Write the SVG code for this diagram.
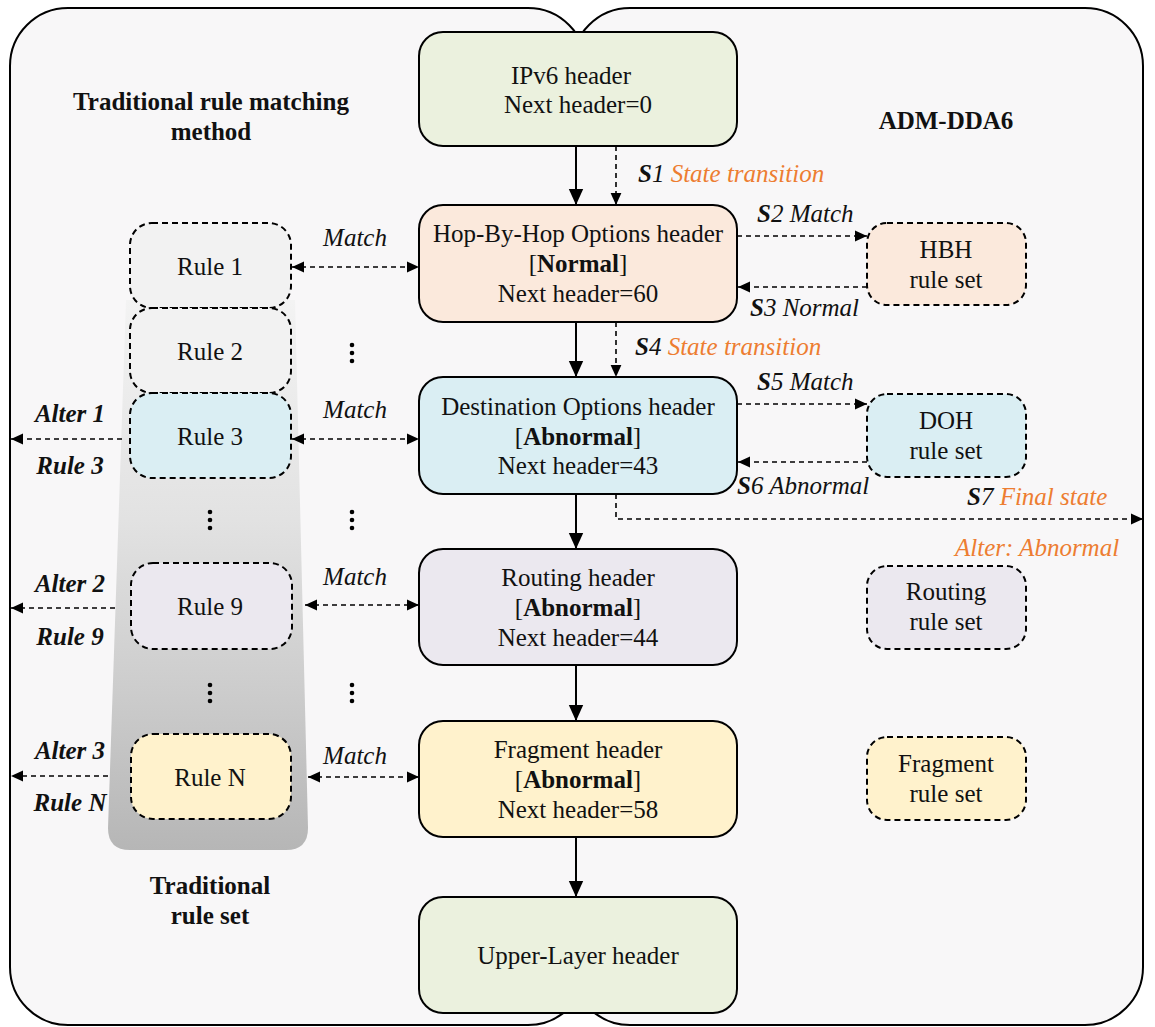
<svg xmlns="http://www.w3.org/2000/svg" width="1155" height="1027" viewBox="0 0 1155 1027">
<defs>
<linearGradient id="gr" x1="0" y1="0" x2="0" y2="1">
<stop offset="0" stop-color="#f3f3f3"/>
<stop offset="0.4" stop-color="#e2e2e2"/>
<stop offset="0.7" stop-color="#cdcdcd"/>
<stop offset="1" stop-color="#b6b6b6"/>
</linearGradient>
<marker id="ah" viewBox="0 0 10 10" refX="10" refY="5" markerWidth="16" markerHeight="16" markerUnits="userSpaceOnUse" orient="auto-start-reverse">
<path d="M0,0.5 L10,5 L0,9.5 z" fill="#000"/>
</marker>
<marker id="ahs" viewBox="0 0 10 10" refX="10" refY="5" markerWidth="12" markerHeight="12" markerUnits="userSpaceOnUse" orient="auto-start-reverse">
<path d="M0,0.5 L10,5 L0,9.5 z" fill="#000"/>
</marker>
</defs>
<style>
.t{font-family:"Liberation Serif","Times New Roman",serif;font-size:25px;fill:#111;text-anchor:middle}
.b{font-weight:bold}
.i{font-style:italic}
.o{fill:#ed7d31}
.s{text-anchor:start}
.node{stroke:#000;stroke-width:2}
.rs{stroke:#000;stroke-width:2;stroke-dasharray:6 4}
.sol{stroke:#000;stroke-width:2;fill:none;marker-end:url(#ah)}
.dsh{stroke:#000;stroke-width:1.6;fill:none;stroke-dasharray:5 4;marker-end:url(#ahs)}
.dbl{stroke:#000;stroke-width:1.6;fill:none;stroke-dasharray:5 4;marker-end:url(#ahs);marker-start:url(#ahs)}
.panel{fill:#f8f7f8;stroke:#000;stroke-width:2}
</style>
<rect width="1155" height="1027" fill="#fff"/>
<g id="panels">
<rect class="panel" x="10" y="8" width="576" height="1017" rx="58"/>
<rect class="panel" x="572" y="8" width="571" height="1017" rx="58"/>
<rect x="560" y="62" width="40" height="911" fill="#f8f7f8"/>
</g>
<g id="ruleset-bg">
<path d="M126,300 L295,300 L308,828 Q308,850 286,850 L130,850 Q108,850 108,828 Z" fill="url(#gr)"/>
</g>
<g id="titles">
<text class="t b" x="211" y="110">Traditional rule matching</text>
<text class="t b" x="211" y="140">method</text>
<text class="t b" x="946" y="129">ADM-DDA6</text>
<text class="t b" x="210" y="894">Traditional</text>
<text class="t b" x="210" y="924">rule set</text>
</g>
<g id="rules">
<g id="rule1"><rect class="rs" x="130" y="223" width="161" height="85" rx="22" fill="#f2f2f2"/><text class="t" x="210" y="275">Rule 1</text></g>
<g id="rule2"><rect class="rs" x="130" y="308" width="161" height="85" rx="22" fill="#f2f2f2"/><text class="t" x="210" y="360">Rule 2</text></g>
<g id="rule3"><rect class="rs" x="130" y="393" width="161" height="85" rx="22" fill="#daeef3"/><text class="t" x="210" y="445">Rule 3</text></g>
<g id="rule9"><rect class="rs" x="131" y="563" width="161" height="86" rx="22" fill="#ebe8ef"/><text class="t" x="210" y="615">Rule 9</text></g>
<g id="ruleN"><rect class="rs" x="131" y="734" width="160" height="85" rx="22" fill="#fff2cc"/><text class="t" x="210" y="786">Rule N</text></g>
</g>
<g id="dots" fill="#000">
<circle cx="352" cy="345" r="2.3"/><circle cx="352" cy="353" r="2.3"/><circle cx="352" cy="361" r="2.3"/>
<circle cx="210" cy="512" r="2.3"/><circle cx="210" cy="520" r="2.3"/><circle cx="210" cy="528" r="2.3"/>
<circle cx="352" cy="512" r="2.3"/><circle cx="352" cy="520" r="2.3"/><circle cx="352" cy="528" r="2.3"/>
<circle cx="210" cy="685" r="2.3"/><circle cx="210" cy="693" r="2.3"/><circle cx="210" cy="701" r="2.3"/>
<circle cx="352" cy="685" r="2.3"/><circle cx="352" cy="693" r="2.3"/><circle cx="352" cy="701" r="2.3"/>
</g>
<g id="ipv6"><rect class="node" x="419" y="32" width="318" height="114" rx="24" fill="#ebf1de"/>
<text class="t" x="571" y="84">IPv6 header</text><text class="t" x="578" y="113">Next header=0</text></g>
<g id="hbh"><rect class="node" x="419" y="205" width="318" height="117" rx="24" fill="#fbe9dc"/>
<text class="t" x="578" y="242">Hop-By-Hop Options header</text><text class="t" x="578" y="272">[<tspan class="b">Normal</tspan>]</text><text class="t" x="578" y="302">Next header=60</text></g>
<g id="doh"><rect class="node" x="419" y="377" width="318" height="117" rx="24" fill="#daeef3"/>
<text class="t" x="578" y="415">Destination Options header</text><text class="t" x="578" y="445">[<tspan class="b">Abnormal</tspan>]</text><text class="t" x="578" y="474">Next header=43</text></g>
<g id="routing"><rect class="node" x="419" y="549" width="318" height="116" rx="24" fill="#ebe8ef"/>
<text class="t" x="578" y="586">Routing header</text><text class="t" x="578" y="616">[<tspan class="b">Abnormal</tspan>]</text><text class="t" x="578" y="646">Next header=44</text></g>
<g id="fragment"><rect class="node" x="419" y="721" width="318" height="116" rx="24" fill="#fff2cc"/>
<text class="t" x="578" y="758">Fragment header</text><text class="t" x="578" y="788">[<tspan class="b">Abnormal</tspan>]</text><text class="t" x="578" y="818">Next header=58</text></g>
<g id="upper"><rect class="node" x="419" y="897" width="318" height="116" rx="24" fill="#ebf1de"/>
<text class="t" x="578" y="964">Upper-Layer header</text></g>
<g id="hbh-rs"><rect class="rs" x="867" y="223" width="159" height="82" rx="20" fill="#fbe9dc"/><text class="t" x="946" y="258">HBH</text><text class="t" x="946" y="288">rule set</text></g>
<g id="doh-rs"><rect class="rs" x="867" y="394" width="159" height="83" rx="20" fill="#daeef3"/><text class="t" x="946" y="429">DOH</text><text class="t" x="946" y="459">rule set</text></g>
<g id="routing-rs"><rect class="rs" x="867" y="566" width="159" height="83" rx="20" fill="#ebe8ef"/><text class="t" x="946" y="600">Routing</text><text class="t" x="946" y="630">rule set</text></g>
<g id="fragment-rs"><rect class="rs" x="867" y="737" width="159" height="83" rx="20" fill="#fff2cc"/><text class="t" x="946" y="772">Fragment</text><text class="t" x="946" y="802">rule set</text></g>
<g id="connectors">
<line class="sol" x1="576" y1="146" x2="576" y2="205"/>
<line class="sol" x1="576" y1="322" x2="576" y2="377"/>
<line class="sol" x1="576" y1="494" x2="576" y2="549"/>
<line class="sol" x1="576" y1="665" x2="576" y2="721"/>
<line class="sol" x1="576" y1="837" x2="576" y2="897"/>
<line class="dsh" x1="616" y1="146" x2="616" y2="205"/>
<line class="dsh" x1="616" y1="322" x2="616" y2="377"/>
<line class="dsh" x1="737" y1="236" x2="867" y2="236"/>
<line class="dsh" x1="867" y1="287" x2="738" y2="287"/>
<line class="dsh" x1="737" y1="404" x2="867" y2="404"/>
<line class="dsh" x1="867" y1="462" x2="738" y2="462"/>
<path class="dsh" d="M616,494 L616,519 L1143,519"/>
<line class="dbl" x1="292" y1="267" x2="419" y2="267"/>
<line class="dbl" x1="292" y1="439" x2="419" y2="439"/>
<line class="dbl" x1="305" y1="605" x2="419" y2="605"/>
<line class="dbl" x1="308" y1="777" x2="419" y2="777"/>
<line class="dsh" x1="122" y1="439" x2="11" y2="439"/>
<line class="dsh" x1="115" y1="608" x2="11" y2="608"/>
<line class="dsh" x1="108" y1="776" x2="11" y2="776"/>
</g>
<g id="labels">
<text class="t i" x="355" y="246">Match</text>
<text class="t i" x="355" y="418">Match</text>
<text class="t i" x="355" y="585">Match</text>
<text class="t i" x="355" y="764">Match</text>
<text class="t i b" x="70" y="422">Alter 1</text>
<text class="t i b" x="70" y="474">Rule 3</text>
<text class="t i b" x="70" y="592">Alter 2</text>
<text class="t i b" x="70" y="645">Rule 9</text>
<text class="t i b" x="70" y="759">Alter 3</text>
<text class="t i b" x="70" y="811">Rule N</text>
<text class="t i s" x="638" y="182"><tspan class="b">S</tspan>1 <tspan class="o">State transition</tspan></text>
<text class="t i s" x="757" y="222"><tspan class="b">S</tspan>2 Match</text>
<text class="t i s" x="750" y="316"><tspan class="b">S</tspan>3 Normal</text>
<text class="t i s" x="635" y="355"><tspan class="b">S</tspan>4 <tspan class="o">State transition</tspan></text>
<text class="t i s" x="757" y="390"><tspan class="b">S</tspan>5 Match</text>
<text class="t i s" x="737" y="494"><tspan class="b">S</tspan>6 Abnormal</text>
<text class="t i s" x="967" y="505"><tspan class="b">S</tspan>7 <tspan class="o">Final state</tspan></text>
<text class="t i o s" x="955" y="556">Alter: Abnormal</text>
</g>
</svg>
